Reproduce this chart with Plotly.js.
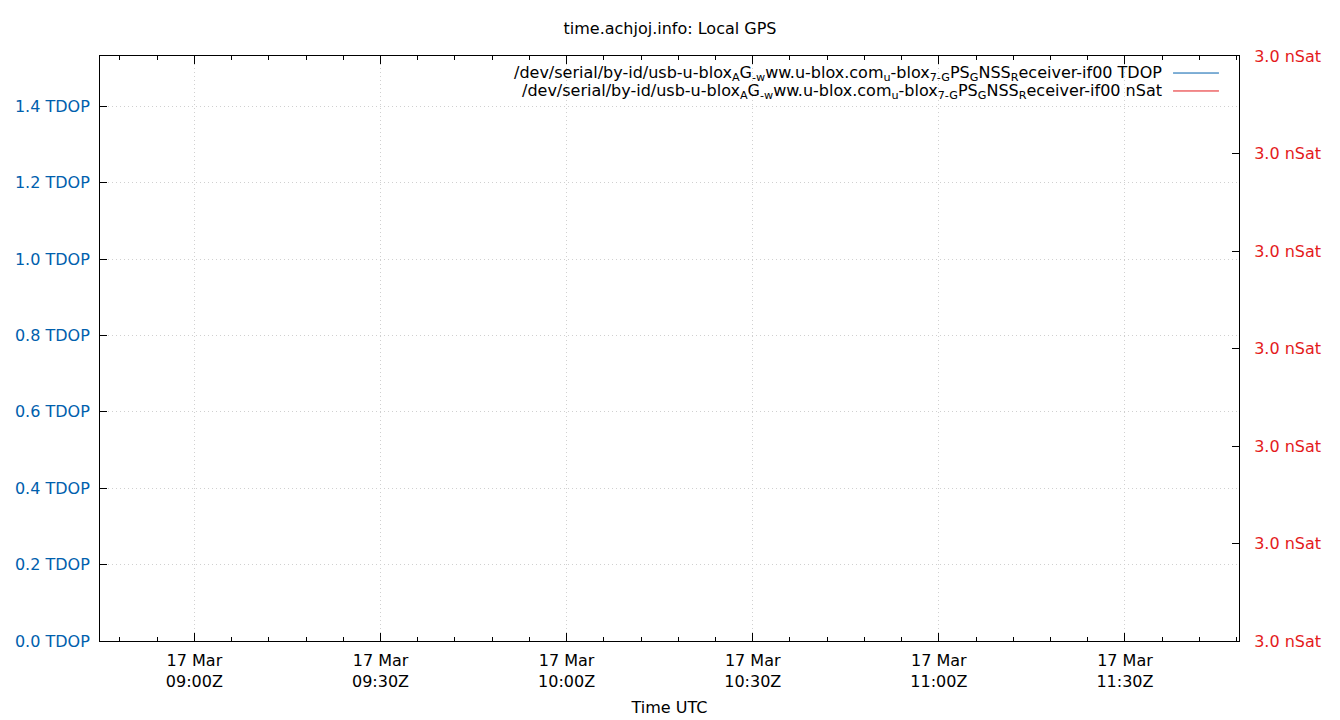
<!DOCTYPE html>
<html>
<head>
<meta charset="utf-8">
<script src="https://cdn.plot.ly/plotly-3.0.1.min.js"></script>
<style>html,body{margin:0;padding:0;background:#fff;}#chart{width:1340px;height:720px;}</style>
</head>
<body>
<div id="chart"></div>
<script>
// Data (no samples are visible in the reference window)
const times = [];
const tdopValues = [];
const nsatValues = [];

const seriesNames = [
  "/dev/serial/by-id/usb-u-blox<sub>A</sub>G<sub>-w</sub>ww.u-blox.com<sub>u</sub>-blox<sub>7-G</sub>PS<sub>G</sub>NSS<sub>R</sub>eceiver-if00 TDOP",
  "/dev/serial/by-id/usb-u-blox<sub>A</sub>G<sub>-w</sub>ww.u-blox.com<sub>u</sub>-blox<sub>7-G</sub>PS<sub>G</sub>NSS<sub>R</sub>eceiver-if00 nSat"
];
const xTickVals = ["2024-03-17 09:00", "2024-03-17 09:30", "2024-03-17 10:00", "2024-03-17 10:30", "2024-03-17 11:00", "2024-03-17 11:30"];
const xTickText = ["17 Mar<br>09:00Z", "17 Mar<br>09:30Z", "17 Mar<br>10:00Z", "17 Mar<br>10:30Z", "17 Mar<br>11:00Z", "17 Mar<br>11:30Z"];
const xRange = ["2024-03-17 08:44:47", "2024-03-17 11:48:23"];
const tdopRange = [0, 1.532];
const nsatRange = [2.97, 3.03];

const BLUE = "#0060ad";
const RED = "#e41a1c";
const FONT = "DejaVu Sans, Liberation Sans, sans-serif";
const GRID = "#d0d0d0";

const traces = [
  {x: times, y: tdopValues, type: "scatter", mode: "lines", name: seriesNames[0],
   line: {color: BLUE, width: 1}, yaxis: "y", showlegend: false},
  {x: times, y: nsatValues, type: "scatter", mode: "lines", name: seriesNames[1],
   line: {color: RED, width: 1}, yaxis: "y2", showlegend: false}
];

const legTextY = [0.9709, 0.9385];
const legLineY = [0.9709, 0.9402];
const legColors = [BLUE, RED];

const layout = {
  width: 1340, height: 720,
  margin: {l: 100, r: 101, t: 56, b: 79},
  paper_bgcolor: "#fff", plot_bgcolor: "#fff",
  font: {family: FONT, size: 16, color: "#000"},
  title: {text: "time.achjoj.info: Local GPS", font: {family: FONT, size: 16, color: "#000"},
          x: 0.5, xanchor: "center", y: 1 - 28/720, yanchor: "middle", yref: "container"},
  showlegend: false,
  xaxis: {
    type: "date", range: xRange,
    tickmode: "array", tickvals: xTickVals, ticktext: xTickText,
    ticks: "inside", ticklen: 8, tickcolor: "#000", tickwidth: 1,
    minor: {dtick: 6*60*1000, tick0: "2024-03-17 09:00", ticks: "inside", ticklen: 4, tickcolor: "#000", showgrid: false},
    showline: true, linecolor: "#000", linewidth: 1, mirror: "ticks",
    showgrid: true, gridcolor: GRID, griddash: "1px,3px", gridwidth: 1,
    zeroline: false,
    ticklabelstandoff: 5,
    tickfont: {family: FONT, size: 16, color: "#000"},
    title: {text: "Time UTC", font: {family: FONT, size: 16, color: "#000"}, standoff: 11}
  },
  yaxis: {
    range: tdopRange, dtick: 0.2, tick0: 0, tickformat: ".1f", ticksuffix: " TDOP",
    ticks: "inside", ticklen: 7, tickcolor: "#000",
    showline: true, linecolor: "#000", linewidth: 1, mirror: false,
    showgrid: true, gridcolor: GRID, griddash: "1px,3px", gridwidth: 1,
    zeroline: false,
    ticklabelstandoff: 6,
    tickfont: {family: FONT, size: 16, color: BLUE}
  },
  yaxis2: {
    range: nsatRange, dtick: 0.01, tick0: 3.0, tickformat: ".1f", ticksuffix: " nSat",
    overlaying: "y", side: "right",
    ticks: "inside", ticklen: 7, tickcolor: "#000",
    showline: true, linecolor: "#000", linewidth: 1,
    showgrid: false, zeroline: false,
    ticklabelstandoff: 11,
    tickfont: {family: FONT, size: 16, color: RED}
  },
  annotations: seriesNames.map((t, i) => ({
    text: t, xref: "paper", yref: "paper", x: 0.934, y: legTextY[i],
    xanchor: "right", yanchor: "middle", showarrow: false,
    font: {family: FONT, size: 16, color: "#000"}
  })),
  shapes: legColors.map((c, i) => ({
    type: "line", xref: "paper", yref: "paper",
    x0: 0.9421, x1: 0.9824, y0: legLineY[i], y1: legLineY[i],
    line: {color: c, width: 1}
  }))
};

Plotly.newPlot("chart", traces, layout, {displayModeBar: false, staticPlot: true});
</script>
</body>
</html>
